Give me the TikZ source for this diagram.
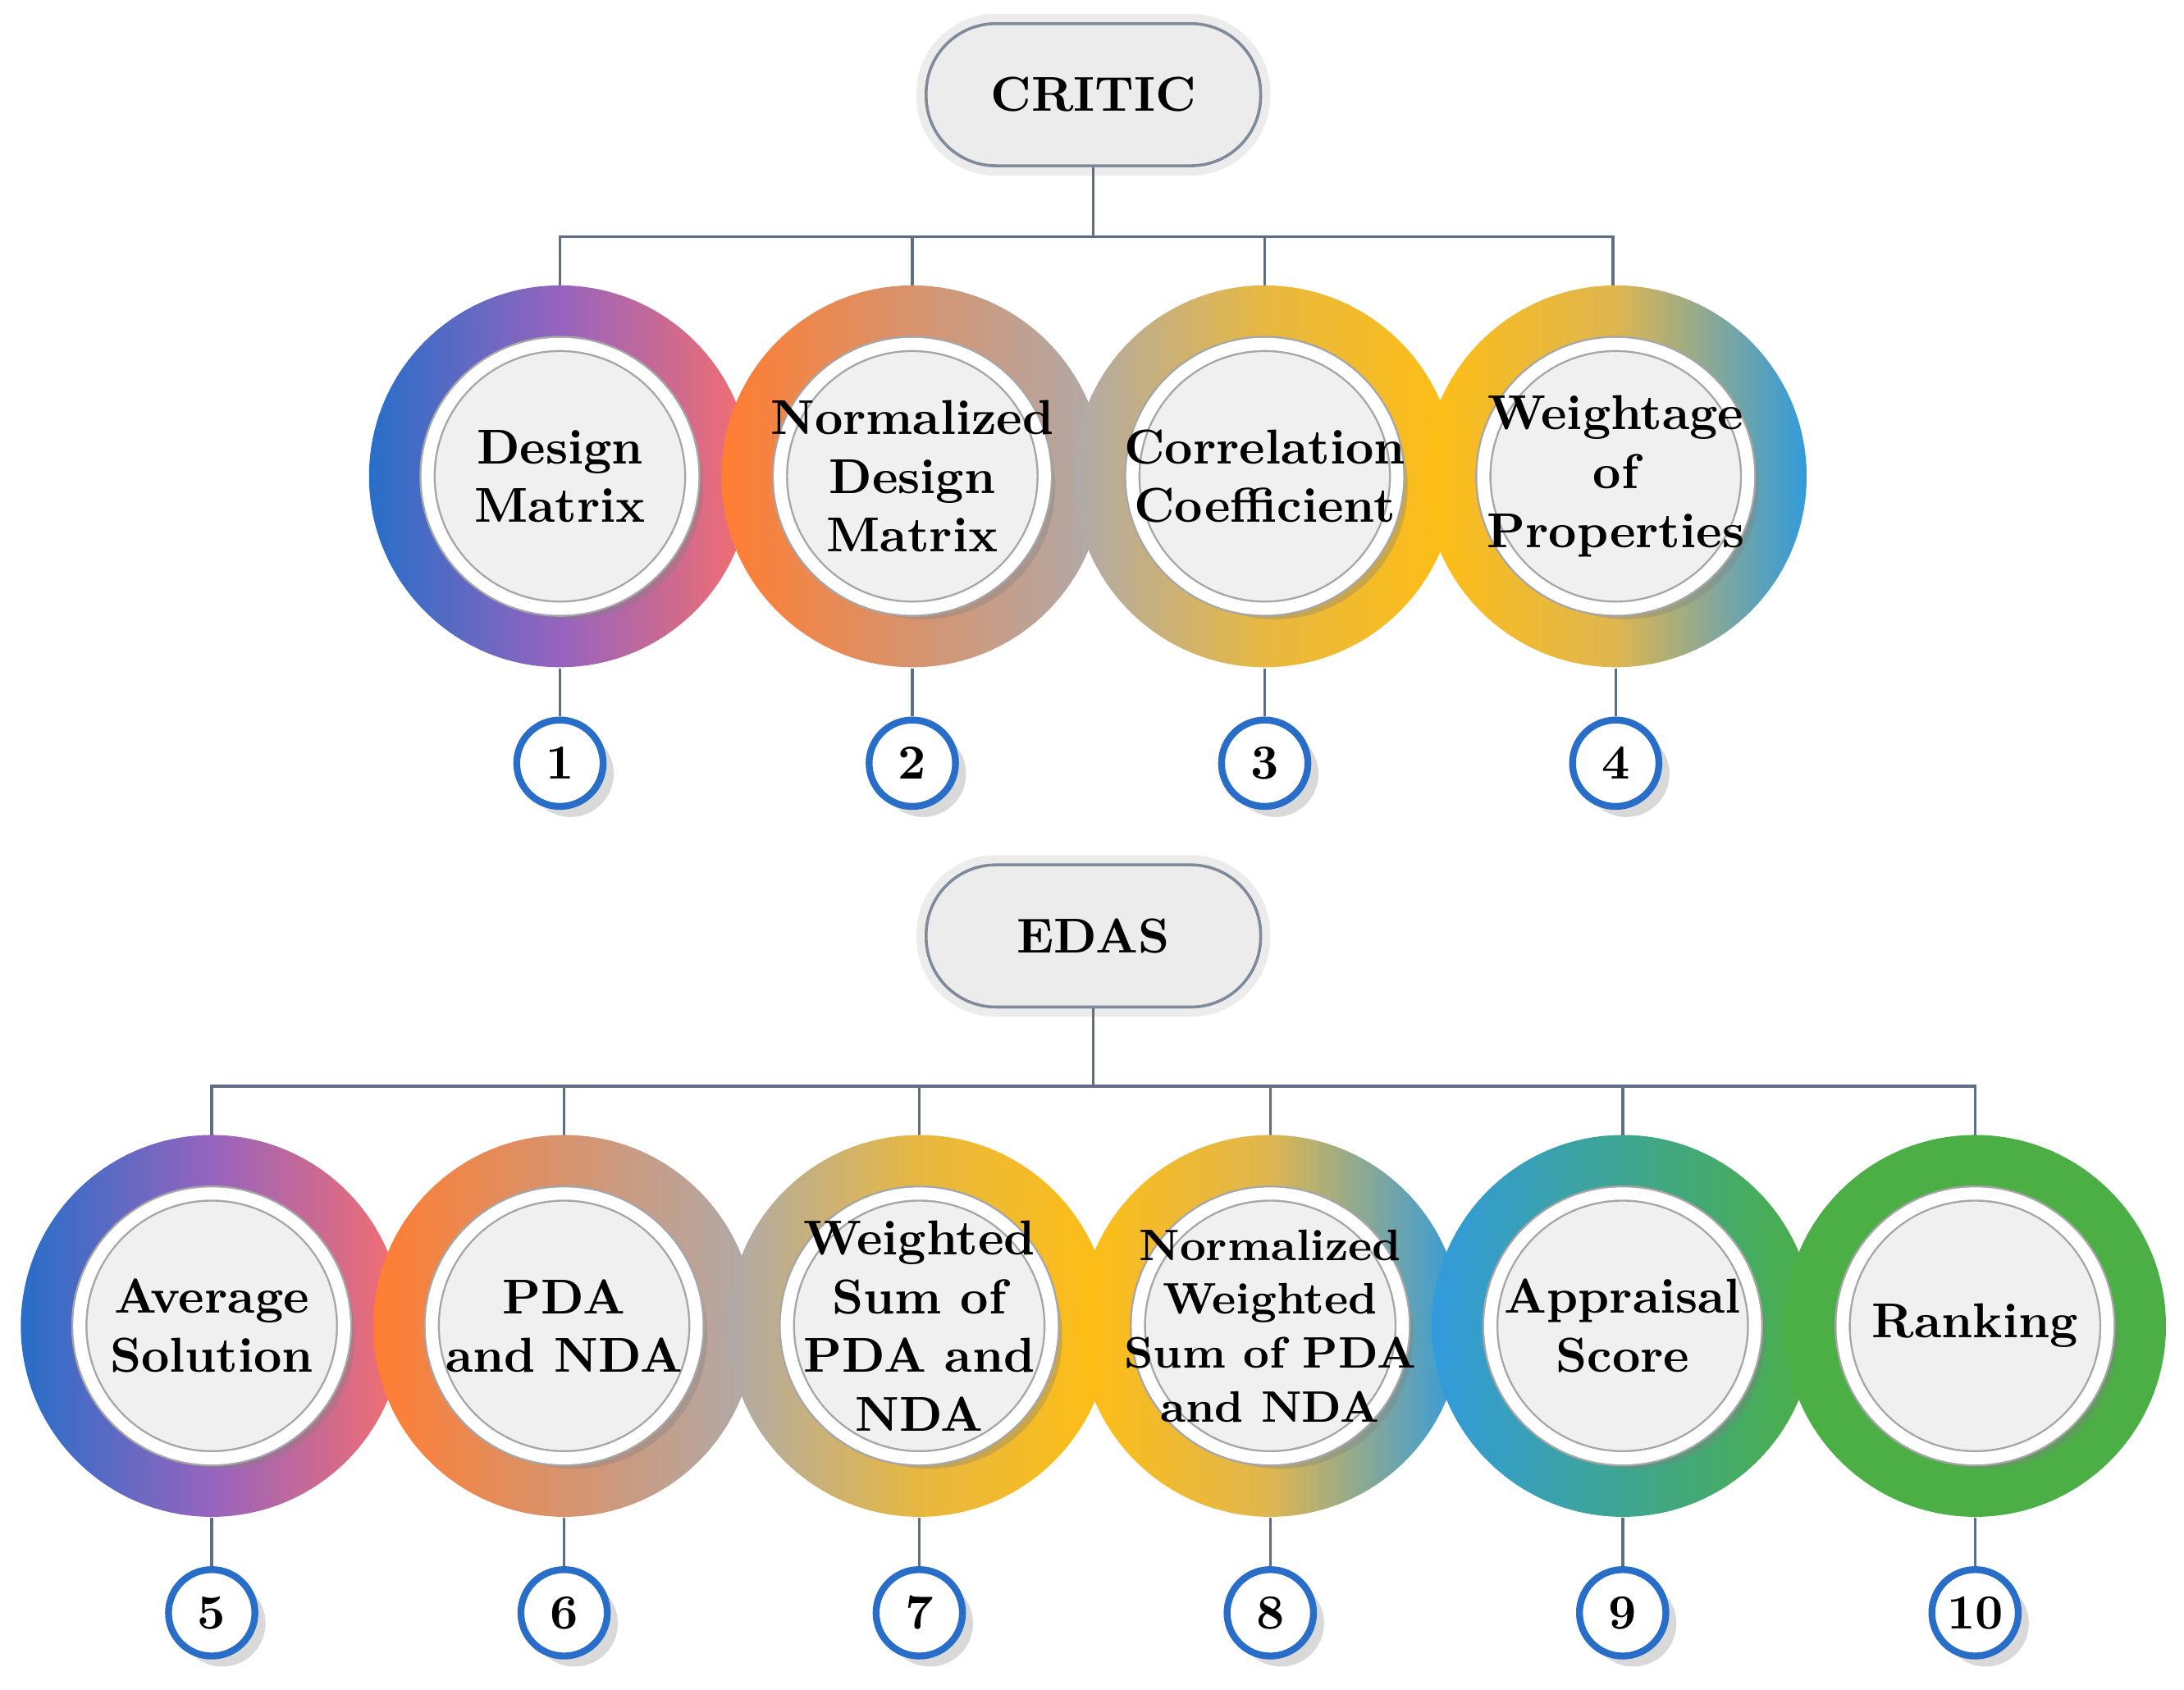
\documentclass[tikz,border=0pt]{standalone}
\usepackage{tikz}
\usetikzlibrary{shadows, positioning}
\definecolor{linegray}{RGB}{95,110,130}
\definecolor{cblue}{RGB}{40,110,200}
\definecolor{cpurple}{RGB}{150,100,190}
\definecolor{csalmon}{RGB}{245,110,110}
\definecolor{corange}{RGB}{255,125,50}
\definecolor{cgray}{RGB}{175,170,170}
\definecolor{cgold}{RGB}{255,190,20}
\definecolor{csky}{RGB}{50,155,220}
\definecolor{cgreen}{RGB}{75,175,70}
\tikzstyle{ring} = [circle, minimum size=2.74cm, inner sep=0pt]
\tikzstyle{inner} = [circle, minimum size=1.90cm, fill=gray!12, draw=gray!70, line width=0.4pt, double=white, double distance=2.5pt, drop shadow={opacity=0.35}, inner sep=0pt]
\tikzstyle{txt} = [align=center, font=\bfseries, inner sep=0pt]
\tikzstyle{num} = [circle, minimum size=0.62cm, fill=white, draw=cblue, line width=1.4pt, font=\bfseries, inner sep=0pt, drop shadow={opacity=0.3}]
\tikzstyle{title} = [rectangle, rounded corners=0.5cm, minimum width=2.4cm, minimum height=1.02cm, fill=gray!15, draw=linegray!80, line width=0.6pt, preaction={draw=gray!15, line width=4pt}, font=\bfseries]
\tikzstyle{line} = [draw=linegray, line width=0.6pt]
\begin{document}
\begin{tikzpicture}[x=0.01cm, y=-0.01cm]
\useasboundingbox (0,0) rectangle (1568,1213);

% CRITIC
\node[title] (critic) at (785,68) {CRITIC};
\coordinate (cj) at (785,170);
\path[line] (critic.south) -- (cj);
\path[line] (402,240) |- (cj) -| (1158,240);
\path[line] (655,240) -- (655,170);
\path[line] (908,240) -- (908,170);

\node[ring, left color=cblue, right color=csalmon, middle color=cpurple] (r1) at (402,342) {};
\node[ring, left color=corange, right color=cgray] (r2) at (655,342) {};
\node[ring, left color=cgray, right color=cgold, middle color=cgold!70!cgray] (r3) at (908,342) {};
\node[ring, left color=cgold, right color=csky, middle color=cgold!60!cgray] (r4) at (1160,342) {};
\node[inner] (c1) at (r1) {};
\node[inner] (c2) at (r2) {};
\node[inner] (c3) at (r3) {};
\node[inner] (c4) at (r4) {};
\node[txt] (t1) at (c1) {Design\\Matrix};
\node[txt] (t2) at (c2) {Normalized\\Design\\Matrix};
\node[txt] (t3) at (c3) {Correlation\\Coefficient};
\node[txt] (t4) at (c4) {Weightage\\of\\Properties};

\node[num] (n1) at (402,548) {1};
\node[num] (n2) at (655,548) {2};
\node[num] (n3) at (908,548) {3};
\node[num] (n4) at (1160,548) {4};
\path[line] (r1.south) -- (n1.north);
\path[line] (r2.south) -- (n2.north);
\path[line] (r3.south) -- (n3.north);
\path[line] (r4.south) -- (n4.north);

% EDAS
\node[title] (edas) at (785,672) {EDAS};
\coordinate (ej) at (785,780);
\path[line] (edas.south) -- (ej);
\path[line] (152,850) |- (ej) -| (1418,850);
\path[line] (405,850) -- (405,780);
\path[line] (660,850) -- (660,780);
\path[line] (912,850) -- (912,780);
\path[line] (1165,850) -- (1165,780);

\node[ring, left color=cblue, right color=csalmon, middle color=cpurple] (r5) at (152,952) {};
\node[ring, left color=corange, right color=cgray] (r6) at (405,952) {};
\node[ring, left color=cgray, right color=cgold, middle color=cgold!70!cgray] (r7) at (660,952) {};
\node[ring, left color=cgold, right color=csky, middle color=cgold!60!cgray] (r8) at (912,952) {};
\node[ring, left color=csky, right color=cgreen] (r9) at (1165,952) {};
\node[ring, fill=cgreen] (r10) at (1418,952) {};
\node[inner] (c5) at (r5) {};
\node[inner] (c6) at (r6) {};
\node[inner] (c7) at (r7) {};
\node[inner] (c8) at (r8) {};
\node[inner] (c9) at (r9) {};
\node[inner] (c10) at (r10) {};
\node[txt] (t5) at (c5) {Average\\Solution};
\node[txt] (t6) at (c6) {PDA\\and NDA};
\node[txt] (t7) at (c7) {Weighted\\Sum of\\PDA and\\NDA};
\node[txt, font=\bfseries\small] (t8) at (c8) {Normalized\\Weighted\\Sum of PDA\\and NDA};
\node[txt] (t9) at (c9) {Appraisal\\Score};
\node[txt] (t10) at (c10) {Ranking};

\node[num] (n5) at (152,1158) {5};
\node[num] (n6) at (405,1158) {6};
\node[num] (n7) at (660,1158) {7};
\node[num] (n8) at (912,1158) {8};
\node[num] (n9) at (1165,1158) {9};
\node[num] (n10) at (1418,1158) {10};
\path[line] (r5.south) -- (n5.north);
\path[line] (r6.south) -- (n6.north);
\path[line] (r7.south) -- (n7.north);
\path[line] (r8.south) -- (n8.north);
\path[line] (r9.south) -- (n9.north);
\path[line] (r10.south) -- (n10.north);
\end{tikzpicture}
\end{document}
